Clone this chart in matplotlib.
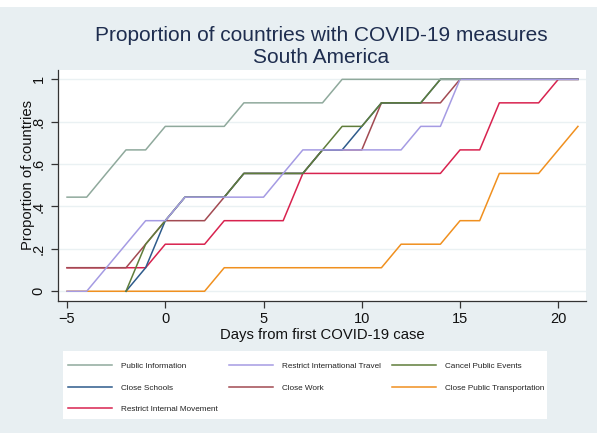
import numpy as np
import matplotlib
matplotlib.use('Agg')
import matplotlib.pyplot as plt
from matplotlib.patches import Rectangle

plt.rcParams['font.family'] = ['Liberation Sans', 'DejaVu Sans']

nan = np.nan
days = [-5, -4, -3, -2, -1, 0, 1, 2, 3, 4, 5, 6, 7, 8, 9, 10,
        11, 12, 13, 14, 15, 16, 17, 18, 19, 20, 21]

public_info = [0.444, 0.444, 0.556, 0.667, 0.667, 0.778, 0.778, 0.778, 0.778,
               0.889, 0.889, 0.889, 0.889, 0.889, 1, 1, 1, 1, 1, 1, 1,
               nan, nan, nan, nan, nan, nan]
intl_travel = [0, 0, 0.111, 0.222, 0.333, 0.333, 0.444, 0.444, 0.444, 0.444, 0.444,
               0.556, 0.667, 0.667, 0.667, 0.667, 0.667, 0.667, 0.778, 0.778,
               1, 1, 1, 1, 1, 1, 1]
public_events = [nan, nan, nan, 0, 0.222, 0.333, 0.444, 0.444, 0.444,
                 0.556, 0.556, 0.556, 0.556, 0.667, 0.778, 0.778,
                 0.889, 0.889, 0.889, 1, 1, 1, 1, 1, 1, 1, 1]
schools = [nan, nan, nan, 0, 0.111, 0.333, 0.444, 0.444, 0.444,
           0.556, 0.556, 0.556, 0.556, 0.667, 0.667, 0.778,
           0.889, 0.889, 0.889, 1, 1, 1, 1, 1, 1, 1, 1]
work = [0.111, 0.111, 0.111, 0.111, 0.222, 0.333, 0.333, 0.333, 0.444,
        0.556, 0.556, 0.556, 0.556, 0.667, 0.667, 0.667,
        0.889, 0.889, 0.889, 0.889, 1, 1, 1, 1, 1, 1, 1]
transport = [0, 0, 0, 0, 0, 0, 0, 0, 0.111, 0.111, 0.111, 0.111, 0.111, 0.111,
             0.111, 0.111, 0.111, 0.222, 0.222, 0.222, 0.333, 0.333,
             0.556, 0.556, 0.556, 0.667, 0.778]
internal = [0.111, 0.111, 0.111, 0.111, 0.111, 0.222, 0.222, 0.222,
            0.333, 0.333, 0.333, 0.333, 0.556, 0.556, 0.556, 0.556, 0.556,
            0.556, 0.556, 0.556, 0.667, 0.667, 0.889, 0.889, 0.889, 1, 1]

labels = ['Public Information', 'Restrict International Travel', 'Cancel Public Events',
          'Close Schools', 'Close Work', 'Close Public Transportation',
          'Restrict Internal Movement']
series = [public_info, intl_travel, public_events, schools, work, transport, internal]
colors = ['#8fa99c', '#a59be3', '#5f7d3b', '#2e5b8b', '#a24a52', '#f0901f', '#d8234f']

W, H = 597, 433
bg = '#e8eff2'
fig = plt.figure(figsize=(W / 100, H / 100), dpi=100, facecolor=bg)
# white strip at the very top
fig.patches.append(Rectangle((0, 1 - 7 / H), 1, 7 / H, transform=fig.transFigure,
                             facecolor='white', edgecolor='none', zorder=0))
# white legend box
fig.patches.append(Rectangle((62.7 / W, 1 - 419 / H), 484 / W, 68 / H,
                             transform=fig.transFigure,
                             facecolor='white', edgecolor='none', zorder=0))

ax = fig.add_axes([58 / W, 1 - 301 / H, 528 / W, 231 / H])
ax.set_facecolor('white')

# first series ends up on top, like the original
lines = []
for i, (y, c, lab) in enumerate(zip(series, colors, labels)):
    ln, = ax.plot(days, y, color=c, lw=1.1, label=lab, zorder=10 - i)
    lines.append(ln)

ax.set_xlim(-5.46, 21.41)
ax.set_ylim(-0.046, 1.044)
ax.set_xticks([-5, 0, 5, 10, 15, 20])
ax.set_yticks([0, 0.2, 0.4, 0.6, 0.8, 1])
ax.set_yticklabels(['0', '.2', '.4', '.6', '.8', '1'], rotation=90, va='center')
ax.grid(axis='y', color='#eaf1f3', lw=1.0)
ax.set_axisbelow(True)
for s in ['top', 'right']:
    ax.spines[s].set_visible(False)
for s in ['left', 'bottom']:
    ax.spines[s].set_color('#333333')
    ax.spines[s].set_linewidth(0.9)
ax.tick_params(axis='both', labelsize=10.5, length=5, width=0.9, color='#333333',
               labelcolor='#111111')
ax.tick_params(axis='y', pad=4)
ax.tick_params(axis='x', pad=3)

ax.set_xlabel('Days from first COVID-19 case', fontsize=10.7, color='#111111', labelpad=1)
ax.set_ylabel('Proportion of countries', fontsize=10.7, color='#111111')
ax.yaxis.set_label_coords(-0.044, 0.545)

fig.text(321.5 / W, 1 - 46.5 / H, 'Proportion of countries with COVID-19 measures\nSouth America',
         ha='center', va='center', fontsize=15, color='#1e2d4f', linespacing=1.15)

# legend laid out row by row as in the original
order = [0, 3, 6, 1, 4, 2, 5]
leg = fig.legend([lines[i] for i in order], [labels[i] for i in order],
                 loc='upper left', bbox_to_anchor=(67.7 / W, 1 - 362.5 / H),
                 ncol=3, fontsize=5.85, frameon=False,
                 handlelength=5.5, handletextpad=1.1, columnspacing=1.3,
                 labelspacing=1.7, borderpad=0, borderaxespad=0)
for t in leg.get_texts():
    t.set_color('#222222')

fig.savefig('out.png', dpi=100, facecolor=bg)
